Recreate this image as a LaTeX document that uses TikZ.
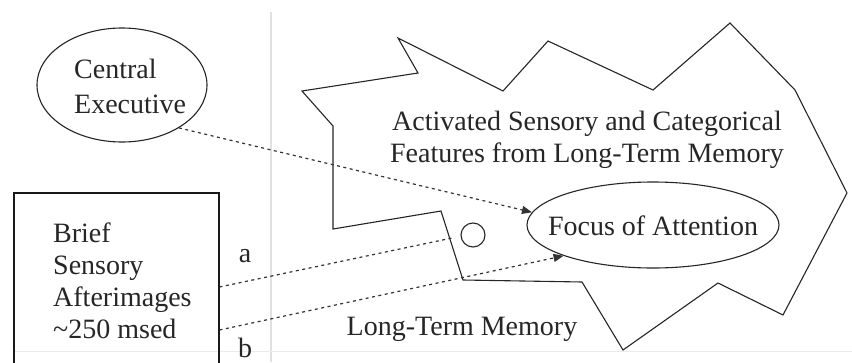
\documentclass[tikz,border=0pt]{standalone}
\usepackage{fontspec}
\setmainfont{Liberation Serif}
\usetikzlibrary{shapes.geometric,arrows.meta}
\begin{document}
\begin{tikzpicture}[x=1pt,y=-1pt,
  lbl/.style={font=\fontsize{28}{32}\selectfont, inner sep=0pt, text=black!85},
  outline/.style={draw=black!85, line width=1.1pt},
  link/.style={draw=black!80, line width=1.2pt, dash pattern=on 3pt off 3.5pt},
  tip/.style={-{Triangle[length=10pt,width=8pt]}}]
\clip (0,0) rectangle (852,362);
\fill[white] (0,0) rectangle (852,362);
% faint rule lines of the page
\draw[black!12, line width=1.2pt] (271,12) -- (271,362);
\draw[black!8, line width=1pt] (13,351) -- (852,351);
% long-term memory outline
\draw[outline, line join=miter]
  (398,38) -- (418,73) -- (302,91) -- (333,126) -- (333,229) -- (441,211)
  -- (463,280) -- (582,282) -- (623,350) -- (718,283) -- (783,315)
  -- (847,193) -- (795,90) -- (730,23) -- (653,90) -- (548,41)
  -- (503,91) -- cycle;
% nodes (multi-line texts are placed by the baseline of their last line)
\node[ellipse, outline, minimum width=170, minimum height=114, inner sep=0] (ce) at (122,85) {};
\node[lbl, align=left, anchor=base west] (cet) at (74,113) {Central\\[3pt]Executive};
\node[ellipse, outline, minimum width=252, minimum height=86, inner sep=0] (fa) at (653,225) {};
\node[lbl, anchor=base] (fat) at (653,235) {Focus of Attention};
\node[circle, outline, minimum size=24, inner sep=0] (sm) at (473,235) {};
\node[draw=black!90, line width=1.5pt, minimum width=205, minimum height=200, anchor=north west, inner sep=0] (sb) at (13,192) {};
\node[lbl, align=left, anchor=base west] (sbt) at (53,338) {Brief\\Sensory\\Afterimages\\\textasciitilde 250 msed};
\node[lbl, align=center, anchor=base] (act) at (587,162) {Activated Sensory and Categorical\\Features from Long-Term Memory};
\node[lbl, anchor=base] (ltm) at (462,335) {Long-Term Memory};
\node[lbl, anchor=base] (la) at (245,262) {a};
\node[lbl, anchor=base] (lb) at (245,357) {b};
\coordinate (aend) at (452,238);
% connectors
\draw[link, tip] (ce.-37) -- (fa.174);
\draw[link] ([yshift=-95pt]sb.north east) -- (aend);
\draw[link, tip] ([yshift=-138pt]sb.north east) -- (fa.199);
\end{tikzpicture}
\end{document}
